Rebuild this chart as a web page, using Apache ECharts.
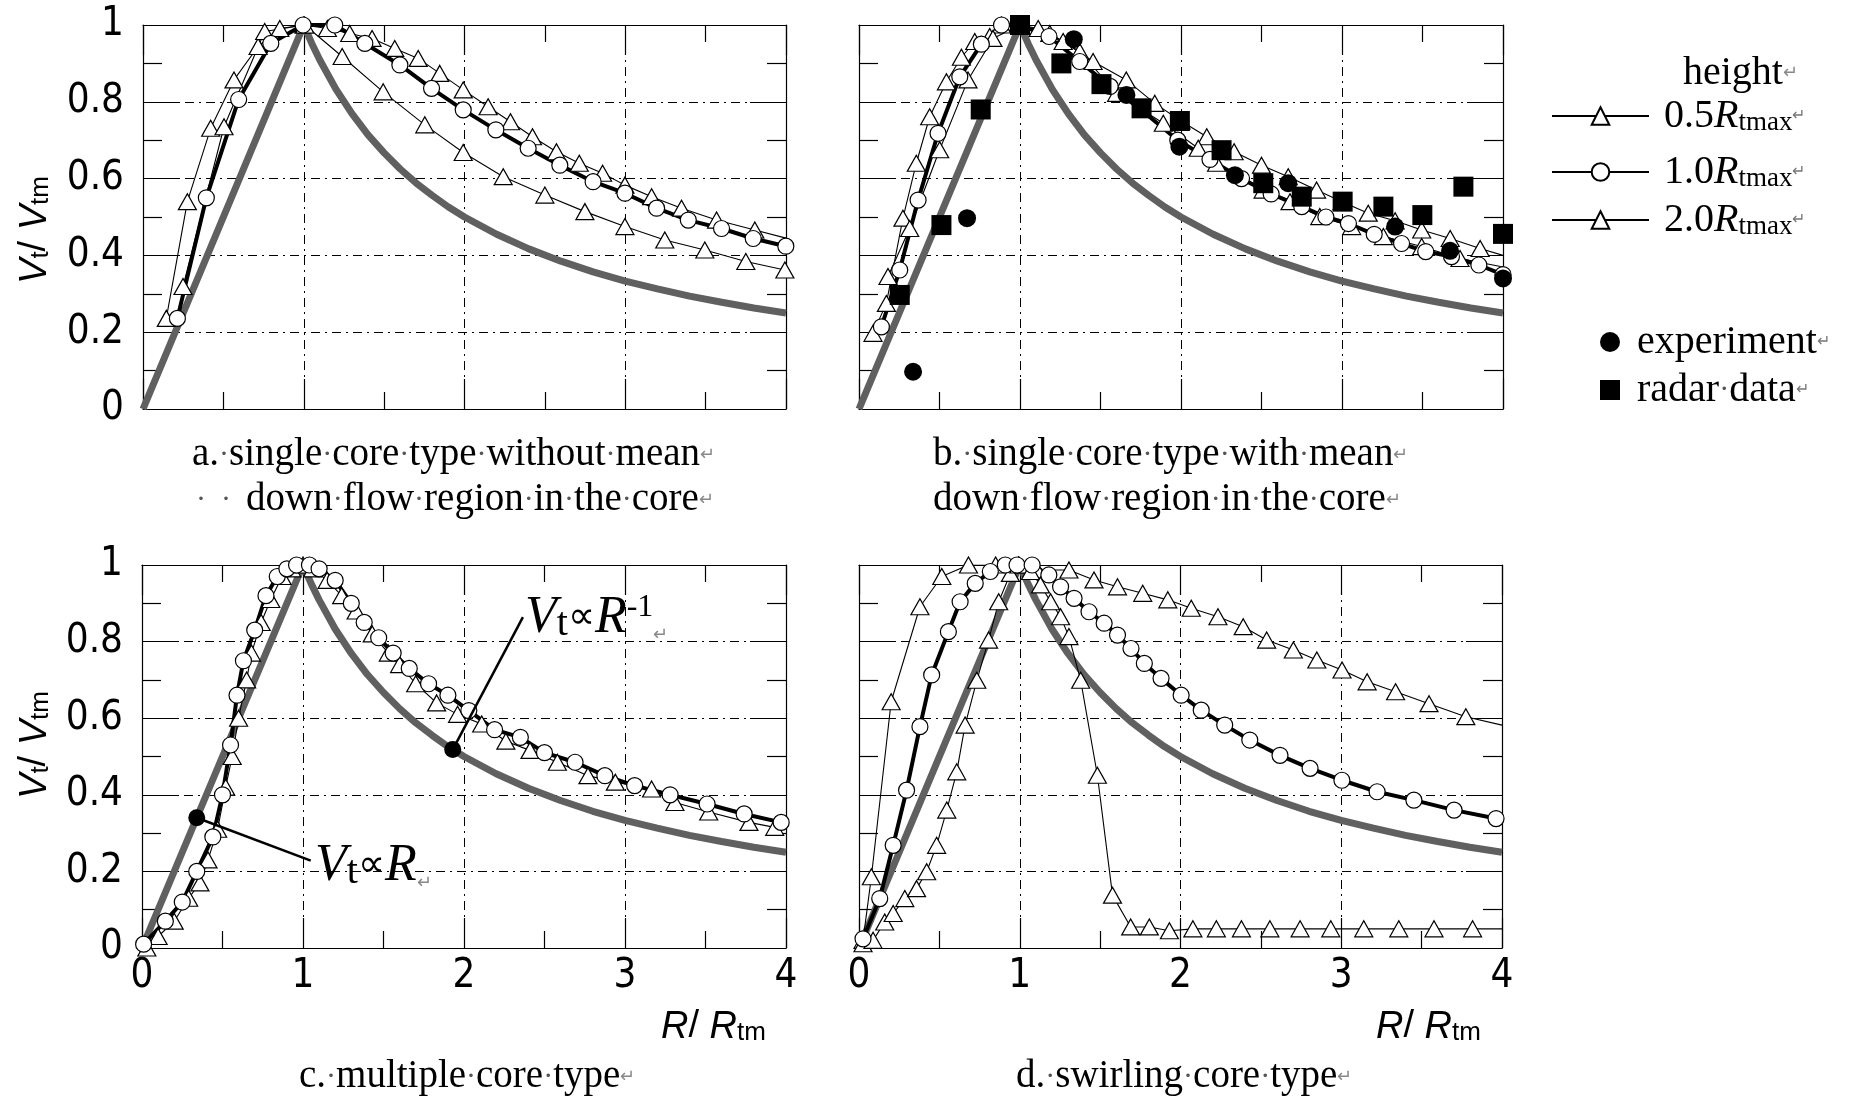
<!DOCTYPE html>
<html><head><meta charset="utf-8">
<script src="https://cdn.jsdelivr.net/npm/echarts@6/dist/echarts.min.js"></script>
<style>html,body{margin:0;padding:0;background:#fff;}#c{width:1852px;height:1103px;}</style>
</head><body><div id="c"></div>
<script>
// ---------------- data ----------------
const theoryCurve = [[0,0],[1,1],[1.05,0.952],[1.1,0.909],[1.2,0.833],[1.3,0.769],[1.4,0.714],[1.5,0.667],[1.6,0.625],[1.7,0.588],[1.8,0.556],[1.9,0.526],[2,0.5],[2.2,0.455],[2.4,0.417],[2.6,0.385],[2.8,0.357],[3,0.333],[3.2,0.313],[3.4,0.294],[3.6,0.278],[3.8,0.263],[4,0.25]];

// a. single core type without mean down flow region
const a05 = [[0.145,0.236],[0.276,0.54],[0.421,0.731],[0.566,0.857],[0.716,0.944],[0.851,0.991],[1.0,1.0],[1.147,0.991],[1.286,0.978],[1.425,0.965],[1.566,0.939],[1.712,0.913],[1.846,0.874],[1.992,0.831],[2.147,0.787],[2.286,0.748],[2.423,0.709],[2.572,0.67],[2.714,0.64],[2.859,0.614],[2.998,0.583],[3.164,0.553],[3.35,0.523],[3.568,0.492],[3.806,0.466],[4.0,0.445]];
const a10 = [[0.214,0.236],[0.394,0.55],[0.595,0.806],[0.795,0.952],[0.996,1.0],[1.193,1.0],[1.38,0.952],[1.598,0.896],[1.795,0.835],[1.992,0.779],[2.195,0.727],[2.396,0.679],[2.593,0.635],[2.8,0.592],[2.998,0.562],[3.195,0.523],[3.392,0.492],[3.599,0.47],[3.796,0.444],[3.999,0.424]];
const a20 = [[0.249,0.319],[0.504,0.735],[0.757,0.983],[1.006,1.0],[1.239,0.918],[1.494,0.826],[1.753,0.74],[1.992,0.668],[2.241,0.605],[2.5,0.557],[2.749,0.514],[2.998,0.475],[3.246,0.44],[3.495,0.414],[3.75,0.384],[3.993,0.362]];

// b. single core type with mean down flow region
const b05 = [[0.087,0.197],[0.17,0.275],[0.273,0.497],[0.356,0.64],[0.439,0.761],[0.543,0.852],[0.636,0.916],[0.719,0.957],[0.812,0.97],[0.885,1.0],[1.0,1.0],[1.113,0.991],[1.268,0.957],[1.454,0.905],[1.66,0.857],[1.837,0.796],[2.0,0.75],[2.16,0.709],[2.33,0.67],[2.5,0.635],[2.666,0.605],[2.842,0.57],[3.0,0.54],[3.163,0.51],[3.33,0.49],[3.495,0.466],[3.672,0.444],[3.858,0.418],[4.0,0.4]];
const b10 = [[0.139,0.214],[0.253,0.362],[0.367,0.544],[0.491,0.718],[0.626,0.865],[0.76,0.95],[0.885,1.0],[1.0,1.0],[1.18,0.97],[1.371,0.905],[1.56,0.84],[1.75,0.78],[1.98,0.7],[2.18,0.65],[2.376,0.6],[2.56,0.56],[2.75,0.527],[2.9,0.5],[3.04,0.483],[3.2,0.455],[3.37,0.431],[3.52,0.41],[3.68,0.397],[3.85,0.375],[4.0,0.35]];
const b20 = [[0.18,0.345],[0.315,0.47],[0.501,0.675],[0.677,0.857],[0.832,0.965],[1.0,1.0],[1.185,0.978],[1.371,0.931],[1.6,0.822],[1.89,0.744],[2.107,0.679],[2.221,0.64],[2.51,0.57],[2.677,0.54],[2.862,0.501],[3.06,0.475],[3.257,0.449],[3.495,0.423],[3.733,0.392],[4.0,0.37]];
const bExperiment = [[0.336,0.097],[0.671,0.497],[1.334,0.963],[1.661,0.818],[1.99,0.683],[2.335,0.609],[2.666,0.588],[3.33,0.475],[3.671,0.412],[4.0,0.34]];
const bRadar = [[0.253,0.297],[0.512,0.479],[0.756,0.78],[1.0,1.0],[1.257,0.9],[1.506,0.846],[1.755,0.783],[1.993,0.75],[2.252,0.674],[2.511,0.588],[2.75,0.553],[3.004,0.54],[3.257,0.527],[3.499,0.505],[3.754,0.579],[4.0,0.456]];

// c. multiple core type
const c05 = [[0.03,0.0],[0.1,0.03],[0.2,0.07],[0.29,0.13],[0.36,0.17],[0.41,0.23],[0.47,0.31],[0.52,0.42],[0.56,0.5],[0.6,0.6],[0.65,0.7],[0.68,0.77],[0.74,0.85],[0.8,0.91],[0.87,0.97],[0.93,0.99],[1.0,1.0],[1.06,0.99],[1.15,0.96],[1.24,0.92],[1.33,0.88],[1.43,0.82],[1.53,0.77],[1.6,0.74],[1.7,0.69],[1.83,0.64],[1.96,0.61],[2.11,0.585],[2.26,0.54],[2.41,0.516],[2.58,0.485],[2.77,0.45],[2.94,0.433],[3.165,0.415],[3.31,0.38],[3.52,0.355],[3.77,0.328],[3.93,0.315]];
const c10 = [[0.01,0.01],[0.145,0.07],[0.25,0.12],[0.34,0.2],[0.44,0.29],[0.5,0.4],[0.55,0.53],[0.59,0.66],[0.63,0.75],[0.7,0.83],[0.77,0.92],[0.84,0.97],[0.9,0.99],[0.96,1.0],[1.04,1.0],[1.1,0.99],[1.2,0.96],[1.3,0.9],[1.38,0.85],[1.47,0.81],[1.56,0.77],[1.66,0.73],[1.78,0.69],[1.9,0.66],[2.03,0.62],[2.19,0.57],[2.35,0.55],[2.5,0.51],[2.69,0.485],[2.875,0.45],[3.06,0.424],[3.28,0.4],[3.51,0.376],[3.74,0.35],[3.97,0.328]];
const cMarkDots = [[0.34,0.34],[1.93,0.518]];
const cLeaderLow = [[0.34,0.34],[1.048,0.228]];
const cLeaderHigh = [[1.93,0.518],[2.366,0.864]];

// d. swirling core type
const d05 = [[0.025,0.02],[0.077,0.186],[0.2,0.643],[0.379,0.891],[0.515,0.97],[0.681,1.0],[0.85,1.0],[0.994,1.0],[1.108,0.987],[1.306,0.987],[1.462,0.961],[1.608,0.943],[1.765,0.926],[1.921,0.909],[2.067,0.887],[2.233,0.865],[2.39,0.839],[2.536,0.804],[2.702,0.778],[2.848,0.752],[3.005,0.726],[3.161,0.695],[3.338,0.669],[3.546,0.638],[3.775,0.604],[4.0,0.582]];
const d10 = [[0.025,0.024],[0.129,0.129],[0.2125,0.268],[0.296,0.412],[0.379,0.578],[0.452,0.713],[0.556,0.826],[0.629,0.904],[0.723,0.952],[0.817,0.983],[0.91,1.0],[0.983,1.0],[1.077,1.0],[1.181,0.974],[1.254,0.943],[1.338,0.913],[1.431,0.878],[1.525,0.848],[1.608,0.817],[1.692,0.782],[1.775,0.743],[1.879,0.704],[2.004,0.66],[2.129,0.621],[2.275,0.582],[2.431,0.543],[2.619,0.503],[2.806,0.469],[3.004,0.438],[3.223,0.408],[3.452,0.386],[3.702,0.36],[3.963,0.338]];
const d20 = [[0.025,0.011],[0.0875,0.02],[0.16,0.068],[0.2125,0.09],[0.285,0.129],[0.358,0.155],[0.421,0.199],[0.483,0.268],[0.546,0.36],[0.608,0.46],[0.66,0.582],[0.733,0.699],[0.806,0.804],[0.869,0.904],[0.942,0.978],[0.994,1.0],[1.067,0.983],[1.129,0.948],[1.192,0.904],[1.254,0.865],[1.306,0.813],[1.379,0.699],[1.483,0.451],[1.577,0.138],[1.69,0.055],[1.806,0.055],[1.931,0.045],[2.077,0.05],[2.223,0.05],[2.379,0.05],[2.556,0.05],[2.744,0.05],[2.935,0.05],[3.14,0.05],[3.358,0.05],[3.577,0.05],[3.817,0.05],[4.0,0.05]];

const seriesNames = ['0.5Rtmax','1.0Rtmax','2.0Rtmax'];
const pointNames = ['experiment','radar data'];
const captions = [
  ['a. single core type without mean', 'down flow region in the core'],
  ['b. single core type with mean', 'down flow region in the core'],
  ['c. multiple core type'],
  ['d. swirling core type']
];

// ---------------- chart ----------------
const SERIF = "'Liberation Serif','Times New Roman',serif";
const SANS = "'Liberation Sans',Arial,sans-serif";
const NARROW = "'Liberation Sans Narrow','Arial Narrow','DejaVu Sans Condensed','Liberation Sans',sans-serif";
const DASH = [9,5,2,5];

const grids = [
  {left:143, top:25, width:643, height:384},
  {left:859, top:25, width:644, height:384},
  {left:142, top:565, width:644, height:383},
  {left:859, top:565, width:643, height:383}
].map(g => Object.assign(g, {containLabel:false, outerBoundsMode:'none', show:false}));

const xAxes = [], yAxes = [];
grids.forEach((g, gi) => {
  ['bottom','top'].forEach(pos => xAxes.push({
    type:'value', gridIndex:gi, position:pos, min:0, max:4, interval:1,
    axisLine:{show:true, onZero:false, lineStyle:{color:'#000', width:1.2}},
    axisTick:{show:true, inside:true, length:30, lineStyle:{color:'#000', width:1.2}},
    minorTick:{show:true, splitNumber:2, length:17, lineStyle:{color:'#000', width:1.2}},
    splitLine:{show: pos === 'bottom', lineStyle:{color:'#000', width:1, type:DASH}},
    axisLabel:{show: pos === 'bottom' && gi >= 2, margin:9, color:'#000', fontSize:40, fontFamily:NARROW},
    axisPointer:{show:false}
  }));
  ['left','right'].forEach(pos => yAxes.push({
    type:'value', gridIndex:gi, position:pos, min:0, max:1, interval:0.2,
    axisLine:{show:true, onZero:false, lineStyle:{color:'#000', width:1.2}},
    axisTick:{show:true, inside:true, length:36, lineStyle:{color:'#000', width:1.2}},
    minorTick:{show:true, splitNumber:2, length:19, lineStyle:{color:'#000', width:1.2}},
    splitLine:{show: pos === 'left', lineStyle:{color:'#000', width:1, type:DASH}},
    axisLabel:{show: pos === 'left' && (gi === 0 || gi === 2), margin:19, color:'#000', fontSize:40, fontFamily:NARROW},
    axisPointer:{show:false}
  }));
});

function withTail(arr, tail) {
  return arr.map((p, i) => (tail && i === arr.length - 1) ? {value:p, symbol:'none'} : p);
}
function model(gi, nameIdx, arr, tail) {
  const thick = nameIdx === 1;
  return {
    type:'line', name: seriesNames[nameIdx], xAxisIndex:gi*2, yAxisIndex:gi*2,
    data: withTail(arr, tail), symbol: thick ? 'circle' : 'triangle',
    symbolSize: thick ? 16 : [18,16], showAllSymbol:true,
    lineStyle:{color:'#000', width: thick ? 4 : 1.1},
    itemStyle:{color:'#fff', borderColor:'#000', borderWidth:1.2, opacity:1},
    z:3, silent:true
  };
}
function theory(gi) {
  return {type:'line', name:'theory', xAxisIndex:gi*2, yAxisIndex:gi*2, data:theoryCurve,
    symbol:'none', lineStyle:{color:'#606060', width:7}, z:2, silent:true, clip:false};
}

const series = [];
grids.forEach((g, gi) => series.push(theory(gi)));
series.push(model(0,0,a05,true), model(0,2,a20,false), model(0,1,a10,false));
series.push(model(1,0,b05,true), model(1,2,b20,true), model(1,1,b10,false));
series.push({type:'scatter', name:pointNames[0], xAxisIndex:2, yAxisIndex:2, data:bExperiment,
  symbol:'circle', symbolSize:18, itemStyle:{color:'#000', opacity:1}, z:5, silent:true});
series.push({type:'scatter', name:pointNames[1], xAxisIndex:2, yAxisIndex:2, data:bRadar,
  symbol:'rect', symbolSize:20, itemStyle:{color:'#000', opacity:1}, z:5, silent:true});
series.push(model(2,0,c05,false), model(2,1,c10,false));
series.push(model(3,0,d05,true), model(3,2,d20,true), model(3,1,d10,false));
[cLeaderLow, cLeaderHigh].forEach(seg => series.push({type:'line', name:'leader', xAxisIndex:4, yAxisIndex:4,
  data:seg, symbol:'none', lineStyle:{color:'#000', width:2.5}, z:6, silent:true, clip:false}));
series.push({type:'scatter', name:'mark', xAxisIndex:4, yAxisIndex:4, data:cMarkDots,
  symbol:'circle', symbolSize:17, itemStyle:{color:'#000', opacity:1}, z:7, silent:true});

// legends
const legRich = {
  i:{fontFamily:SERIF, fontSize:40, fontStyle:'italic', color:'#000'},
  s:{fontFamily:SERIF, fontSize:27, color:'#000', verticalAlign:'bottom', lineHeight:20},
  r:{fontFamily:SERIF, fontSize:16, color:'#777'},
  d:{fontFamily:SERIF, fontSize:30, color:'#555'},
  g:{fontFamily:SERIF, fontSize:40, color:'#000', padding:[0,0,0,12]}
};
const legBase = {orient:'vertical', padding:0, selectedMode:false,
  itemStyle:{opacity:1},
  textStyle:{fontFamily:SERIF, fontSize:40, color:'#000', rich:legRich}};
const legends = [];
[96,152,200].forEach((top, k) => legends.push(Object.assign({}, legBase, {
  left:1551, top, itemWidth:97, itemHeight:22, data:[seriesNames[k]],
  formatter: n => ' ' + n.slice(0,3) + '{i|R}{s|tmax}{r|↵}'
})));
[322,370].forEach((top, k) => legends.push(Object.assign({}, legBase, {
  left:1600, top, itemWidth:20, itemHeight:20, data:[pointNames[k]],
  formatter: n => '{g|' + n.split(' ')[0] + '}' + (n.indexOf(' ') > 0 ? '{d|·}' + n.split(' ')[1] : '') + '{r|↵}'
})));

// graphic texts
function gtext(x, y, text, extra) {
  return {type:'text', x, y, silent:true, style:Object.assign({
    text, fill:'#000', fontFamily:SERIF, fontSize:39,
    align:'left', verticalAlign:'middle', textAlign:'left', textVerticalAlign:'middle'
  }, extra || {})};
}
const capRich = {d:{fill:'#555', fontFamily:SERIF, fontSize:30}, r:{fill:'#888', fontFamily:SERIF, fontSize:18}};
function cap(s) { return s.split(' ').join('{d|·}') + '{r|↵}'; }
const titleRich = {
  i:{fontFamily:SANS, fontSize:38, fontStyle:'italic', fill:'#000'},
  n:{fontFamily:SANS, fontSize:38, fill:'#000'},
  s:{fontFamily:SANS, fontSize:26, fill:'#000', verticalAlign:'bottom', lineHeight:18}
};
const annRich = {
  v:{fontFamily:SERIF, fontSize:52, fontStyle:'italic', fill:'#000'},
  t:{fontFamily:SERIF, fontSize:40, fill:'#000', verticalAlign:'bottom'},
  p:{fontFamily:SERIF, fontSize:38, fill:'#000'},
  u:{fontFamily:SERIF, fontSize:32, fill:'#000', verticalAlign:'top'},
  r:{fontFamily:SERIF, fontSize:18, fill:'#888', verticalAlign:'bottom'}
};
const graphics = [
  gtext(192, 455, cap(captions[0][0]), {rich:capRich}),
  gtext(196, 500, '{d|·  ·  }' + cap(captions[0][1]), {rich:capRich}),
  gtext(933, 455, cap(captions[1][0]), {rich:capRich}),
  gtext(933, 500, cap(captions[1][1]), {rich:capRich}),
  gtext(299, 1077, cap(captions[2][0]), {rich:capRich}),
  gtext(1016, 1077, cap(captions[3][0]), {rich:capRich}),
  gtext(1683, 73, 'height{r|↵}', {fontSize:40, rich:capRich}),
  gtext(661, 1027, '{i|R}{n|/ }{i|R}{s|tm}', {rich:titleRich}),
  gtext(1376, 1027, '{i|R}{n|/ }{i|R}{s|tm}', {rich:titleRich}),
  Object.assign(gtext(35, 230, '{i|V}{s|t}{n|/ }{i|V}{s|tm}', {rich:titleRich, align:'center', textAlign:'center'}), {rotation:Math.PI/2}),
  Object.assign(gtext(35, 745, '{i|V}{s|t}{n|/ }{i|V}{s|tm}', {rich:titleRich, align:'center', textAlign:'center'}), {rotation:Math.PI/2}),
  gtext(315, 866, '{v|V}{t|t}{p|∝}{v|R}{r|↵}', {rich:annRich}),
  gtext(525, 618, '{v|V}{t|t}{p|∝}{v|R}{u|-1}{r|↵}', {rich:annRich})
];

const chart = echarts.init(document.getElementById('c'), null, {renderer:'canvas'});
chart.setOption({
  animation:false,
  backgroundColor:'#fff',
  grid: grids, xAxis: xAxes, yAxis: yAxes,
  legend: legends, series, graphic: graphics,
  tooltip:{show:false}
});
</script>
</body></html>
